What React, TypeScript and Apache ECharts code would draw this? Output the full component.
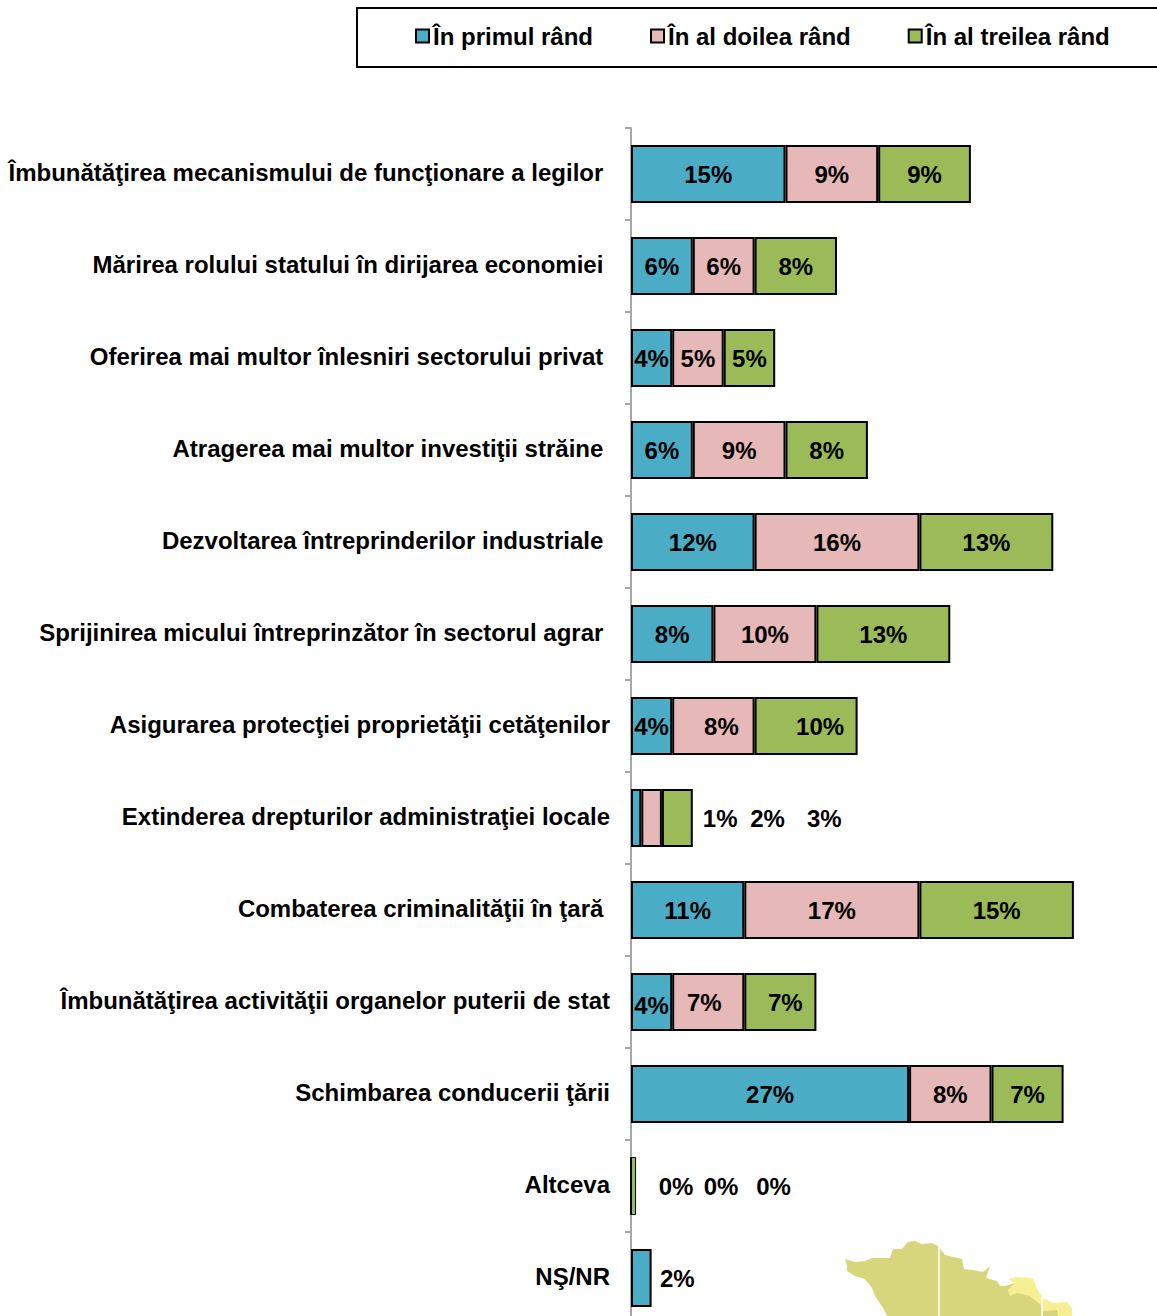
import React, { useEffect, useRef } from "react";
import * as echarts from "echarts";

const categories = [
  "Îmbunătăţirea mecanismului de funcţionare a legilor ",
  "Mărirea rolului statului în dirijarea economiei ",
  "Oferirea mai multor înlesniri sectorului privat ",
  "Atragerea mai multor investiţii străine ",
  "Dezvoltarea întreprinderilor industriale ",
  "Sprijinirea micului întreprinzător în sectorul agrar ",
  "Asigurarea protecţiei proprietăţii cetăţenilor",
  "Extinderea drepturilor administraţiei locale",
  "Combaterea criminalităţii în ţară ",
  "Îmbunătăţirea activităţii organelor puterii de stat",
  "Schimbarea conducerii ţării",
  "Altceva",
  "NŞ/NR",
];
const seriesNames = ["În primul rând", "În al doilea rând", "În al treilea rând"];
const primul = [15, 6, 4, 6, 12, 8, 4, 1, 11, 4, 27, 0, 2];
const doilea = [9, 6, 5, 9, 16, 10, 8, 2, 17, 7, 8, 0, null];
const treilea = [9, 8, 5, 8, 13, 13, 10, 3, 15, 7, 7, 0.49, null];
const colors = ["#4bacc6", "#e6b8b7", "#9bbb59"];
const FONT = '"Liberation Sans", Arial, sans-serif';

// Labels moved away from the middle of their bars: category index -> x shift per series
const labelShift: Record<number, number[]> = {
  6: [0, 8, 14],
  7: [84, 116, 147],
  9: [0, -4, 5],
  11: [45, 90, 140],
  12: [36, 0, 0],
};

const mapMain = [
  [845, 1259], [855, 1262], [865, 1261], [872, 1258], [890, 1258], [893, 1249], [902, 1249], [908, 1242], [915, 1241],
  [922, 1244], [932, 1243], [938, 1246], [945, 1255], [962, 1259], [964, 1269], [973, 1270], [983, 1272], [990, 1266],
  [986, 1278], [997, 1281], [1000, 1286], [1005, 1286], [1015, 1283], [1040, 1304], [1058, 1310], [1058, 1316],
  [887, 1316], [883, 1308], [875, 1296], [872, 1288], [865, 1279], [855, 1276], [847, 1271], [847, 1266],
];
const mapLight = [
  [1008, 1279], [1017, 1277], [1033, 1278], [1037, 1289], [1043, 1298], [1053, 1303], [1067, 1302], [1072, 1308], [1072, 1316],
  [1058, 1316], [1057, 1310], [1043, 1311], [1040, 1304], [1030, 1296], [1017, 1293], [1010, 1296], [1008, 1290], [1015, 1283],
];

export default function App() {
  const ref = useRef<HTMLDivElement>(null);
  useEffect(() => {
    document.body.style.margin = "0";
    const chart = echarts.init(ref.current!, null, { renderer: "svg" });
    const makeSeries = (values: (number | null)[], si: number) => ({
      name: seriesNames[si],
      type: "bar" as const,
      stack: "total",
      barWidth: 58,
      itemStyle: { color: colors[si], borderColor: "#000", borderWidth: 2 },
      label: {
        show: true,
        position: "inside" as const,
        color: "#000",
        fontFamily: FONT,
        fontWeight: "bold" as const,
        fontSize: 24,
        formatter: (p: any) => (p.value == null ? "" : `${Math.round(p.value)}%`),
      },
      data: values.map((v, i) => {
        const item: any = { value: v };
        if (labelShift[i]) item.label = { offset: [labelShift[i][si], i === 9 && si === 0 ? 3 : 0] };
        if (i === 11) item.itemStyle = { borderWidth: 1 };
        return item;
      }),
    });
    chart.setOption({
      animation: false,
      backgroundColor: "#fff",
      legend: {
        left: 415,
        top: 24,
        padding: 0,
        itemGap: 57,
        itemWidth: 13,
        itemHeight: 13,
        icon: "rect",
        data: seriesNames,
        textStyle: { fontFamily: FONT, fontWeight: "bold", fontSize: 24, color: "#000", padding: [0, 0, 0, -1] },
        itemStyle: { borderColor: "#000", borderWidth: 2 },
      },
      grid: { left: 631, top: 128, width: 515, height: 1196 },
      xAxis: { type: "value", min: 0, max: 50, show: false },
      yAxis: {
        type: "category",
        inverse: true,
        data: categories,
        axisLine: { lineStyle: { color: "#a6a6a6", width: 2 } },
        axisTick: { show: true, length: 6, lineStyle: { color: "#a6a6a6", width: 2 } },
        axisLabel: {
          interval: 0,
          margin: 21,
          formatter: (v: string) => `{a|${v}}`,
          rich: {
            a: {
              color: "#000",
              fontFamily: FONT,
              fontWeight: "bold",
              fontSize: 24,
              lineHeight: 26,
              padding: [0, 0, 3, 0],
            },
          },
        },
      },
      series: [makeSeries(primul, 0), makeSeries(doilea, 1), makeSeries(treilea, 2)],
      graphic: [
        { type: "rect", silent: true, z: 0, shape: { x: 357, y: 8, width: 830, height: 59 }, style: { fill: "#fff", stroke: "#000", lineWidth: 2 } },
        { type: "polygon", silent: true, z: 0, shape: { points: mapMain }, style: { fill: "#d8d67c" } },
        { type: "polygon", silent: true, z: 0, shape: { points: mapLight }, style: { fill: "#f7f093" } },
        { type: "line", silent: true, z: 1, shape: { x1: 939, y1: 1246, x2: 939, y2: 1316 }, style: { stroke: "#fff", lineWidth: 1.5 } },
        { type: "line", silent: true, z: 1, shape: { x1: 1042, y1: 1297, x2: 1042, y2: 1316 }, style: { stroke: "#fff", lineWidth: 1.5 } },
      ],
    });
    return () => chart.dispose();
  }, []);
  return (
    <div style={{ width: 1157, height: 1316, position: "absolute", left: 0, top: 0, overflow: "hidden" }}>
      <div ref={ref} style={{ width: 1157, height: 1340 }} />
    </div>
  );
}
